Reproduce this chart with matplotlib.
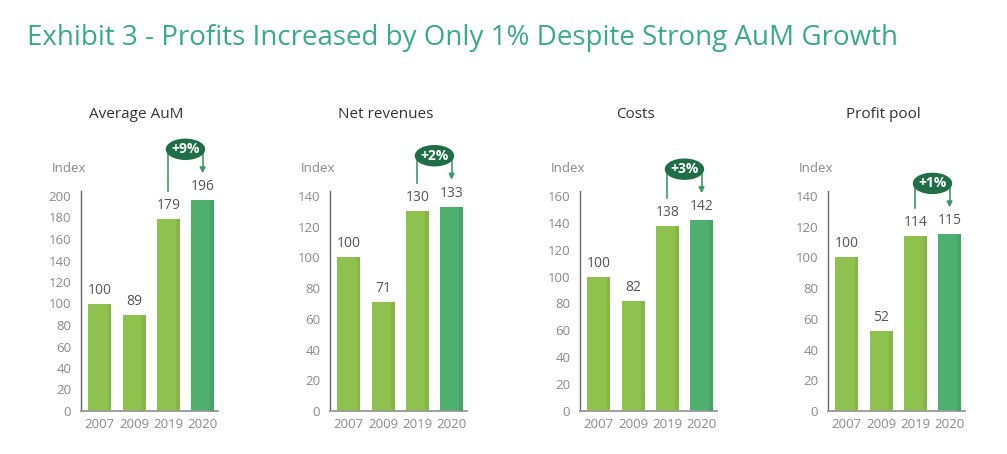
import numpy as np
import matplotlib.pyplot as plt
from matplotlib.patches import Ellipse

plt.rcParams['font.family'] = ['Open Sans', 'DejaVu Sans']

years = ['2007', '2009', '2019', '2020']
panel_titles = ['Average AuM', 'Net revenues', 'Costs', 'Profit pool']
aum = [100, 89, 179, 196]
revenues = [100, 71, 130, 133]
costs = [100, 82, 138, 142]
profits = [100, 52, 114, 115]
growth_labels = ['+9%', '+2%', '+3%', '+1%']
top_ticks = [200, 140, 160, 140]
series = [aum, revenues, costs, profits]

light_green = '#8fc14f'
dark_green = '#4db06f'
oval_green = '#1f6e47'
line_green = '#3f9a68'
tick_grey = '#8a8a8a'
text_grey = '#555555'

W, H = 1007, 454
fig = plt.figure(figsize=(W / 100, H / 100), dpi=100)
fig.text(27 / W, 1 - 38 / H, 'Exhibit 3 - Profits Increased by Only 1% Despite Strong AuM Growth',
         color='#3aaa8c', fontsize=20, va='center', ha='left')

axis_x = [81, 330, 580, 828]
zero_px = 411
top_px = 196
span_w = 137
px_unit = 34.25  # pixels per bar slot

for i in range(4):
    vals = series[i]
    top = top_ticks[i]
    per_px = top / (zero_px - top_px)
    ymax = top + 5 * per_px
    ax = fig.add_axes([axis_x[i] / W, 1 - zero_px / H, span_w / W,
                       (zero_px - top_px + 5) / H])
    x = np.arange(len(vals))
    colors = [light_green] * 3 + [dark_green]
    ax.bar(x, vals, width=0.67, color=colors, zorder=2)
    # slight darker edge on the right side of each bar
    ax.bar(x + 0.28, vals, width=0.11, color=['#86b548'] * 3 + ['#46a566'], zorder=3)
    ax.set_xlim(-0.55, 3.45)
    ax.set_ylim(0, ymax)
    ax.set_yticks(np.arange(0, top + 1, 20))
    ax.set_xticks(x)
    ax.set_xticklabels(years)
    ax.tick_params(length=0, colors=tick_grey, labelsize=9.5, pad=7)
    ax.tick_params(axis='x', pad=5)
    for s in ['top', 'right']:
        ax.spines[s].set_visible(False)
    ax.spines['left'].set_color('#666666')
    ax.spines['bottom'].set_color('#999999')
    ax.spines['left'].set_linewidth(1.0)
    ax.spines['bottom'].set_linewidth(1.3)

    for xi, v in zip(x, vals):
        ax.text(xi, v + 6 * per_px, str(v), ha='center', va='bottom',
                fontsize=10, color=text_grey)

    ax.text(-0.55 - 29 / px_unit, top + 28 * per_px, 'Index', ha='left', va='center',
            fontsize=9.5, color=tick_grey, clip_on=False)
    ax.text(1.5 - 15 / px_unit, top + 81 * per_px, panel_titles[i], ha='center', va='center',
            fontsize=11, color='#333333', clip_on=False)

    # growth bracket between 2019 and 2020
    y_top = vals[3] + 53 * per_px
    y_start = vals[2] + 28 * per_px
    y_end = vals[3] + 27 * per_px
    ax.plot([2, 2, 3, 3], [y_start, y_top, y_top, y_end + 3 * per_px],
            color=line_green, lw=1.2, clip_on=False, zorder=4)
    ax.annotate('', xy=(3, y_end), xytext=(3, y_end + 4 * per_px),
                arrowprops=dict(arrowstyle='-|>', color=line_green, lw=1.2,
                                mutation_scale=8, shrinkA=0, shrinkB=0),
                annotation_clip=False)
    oval = Ellipse((2.5, y_top - 2 * per_px), width=38 / px_unit, height=20 * per_px,
                   color=oval_green, clip_on=False, zorder=5)
    ax.add_patch(oval)
    ax.text(2.5, y_top - 2 * per_px, growth_labels[i], ha='center', va='center',
            fontsize=10, fontweight='bold', color='white', zorder=6, clip_on=False)

fig.savefig('out.png', dpi=100)
